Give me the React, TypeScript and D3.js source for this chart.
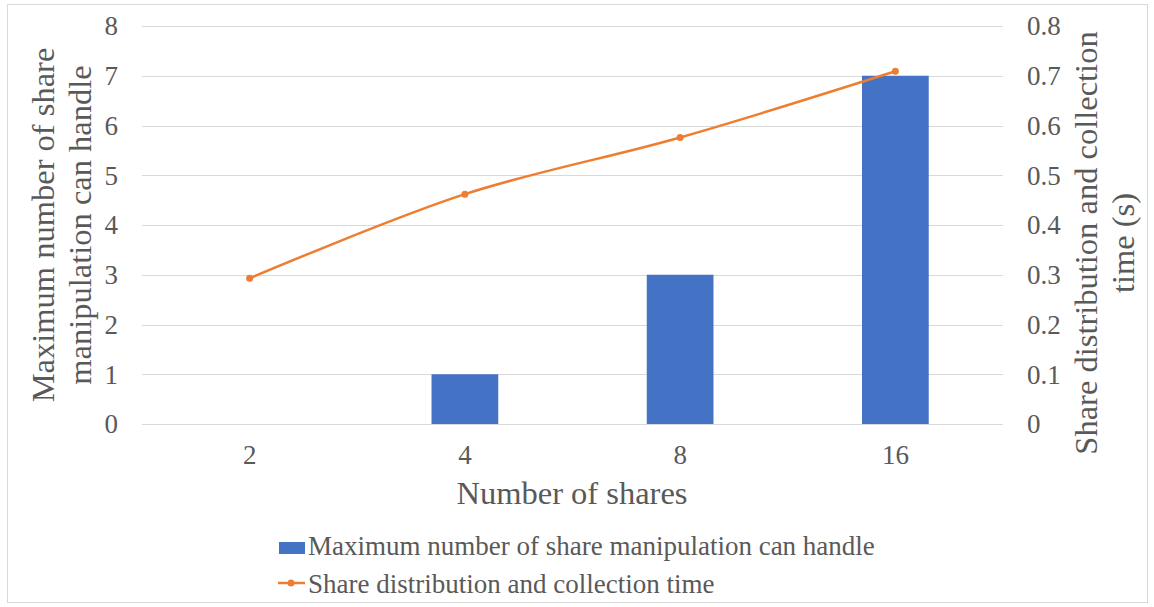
import React from "react";
import * as d3 from "d3";

const categories = ["2", "4", "8", "16"];
const maxManipulations = [0, 1, 3, 7];
const distributionTime = [0.293, 0.462, 0.576, 0.709];
const leftTicks = [0, 1, 2, 3, 4, 5, 6, 7, 8];
const rightTicks = [0, 0.1, 0.2, 0.3, 0.4, 0.5, 0.6, 0.7, 0.8];

const W = 1154;
const H = 607;
const plot = { left: 142, right: 1003, top: 26, bottom: 424 };
const barColor = "#4472c4";
const lineColor = "#ed7d31";
const textColor = "#595959";
const gridColor = "#d9d9d9";
const font = "'Liberation Serif', 'Times New Roman', serif";
const tickSize = 27;
const titleSize = 32.5;
const legendSize = 27;

export default function App() {
  const x = d3
    .scaleBand<string>()
    .domain(categories)
    .range([plot.left, plot.right])
    .paddingInner(0)
    .paddingOuter(0);
  const yLeft = d3.scaleLinear().domain([0, 8]).range([plot.bottom, plot.top]);
  const yRight = d3.scaleLinear().domain([0, 0.8]).range([plot.bottom, plot.top]);
  const barW = x.bandwidth() * 0.31;
  const cx = (c: string) => (x(c) as number) + x.bandwidth() / 2;

  const pts: [number, number][] = categories.map((c, i) => [cx(c), yRight(distributionTime[i])]);
  const line = d3.line().curve(d3.curveCatmullRom.alpha(0.5))(pts) as string;

  return (
    <svg
      width={W}
      height={H}
      style={{ position: "absolute", left: 0, top: 0, background: "#fff" }}
      fontFamily={font}
    >
      <rect x={7.5} y={4.5} width={1140} height={598} fill="#fff" stroke="#d9d9d9" />

      {leftTicks.map((t) => (
        <line
          key={"g" + t}
          x1={plot.left}
          x2={plot.right}
          y1={Math.round(yLeft(t)) + 0.5}
          y2={Math.round(yLeft(t)) + 0.5}
          stroke={gridColor}
          strokeWidth={1}
        />
      ))}

      {categories.map((c, i) => (
        <rect
          key={"b" + c}
          x={cx(c) - barW / 2}
          y={yLeft(maxManipulations[i])}
          width={barW}
          height={yLeft(0) - yLeft(maxManipulations[i])}
          fill={barColor}
        />
      ))}

      <path d={line} fill="none" stroke={lineColor} strokeWidth={2.5} strokeLinecap="round" />
      {pts.map((p, i) => (
        <circle key={"m" + i} cx={p[0]} cy={p[1]} r={3.5} fill={lineColor} />
      ))}

      {leftTicks.map((t) => (
        <text
          key={"lt" + t}
          x={118}
          y={yLeft(t)}
          dy="0.35em"
          textAnchor="end"
          fontSize={tickSize}
          fill={textColor}
        >
          {t}
        </text>
      ))}
      {rightTicks.map((t) => (
        <text
          key={"rt" + t}
          x={1027}
          y={yRight(t)}
          dy="0.35em"
          textAnchor="start"
          fontSize={tickSize}
          fill={textColor}
        >
          {t === 0 ? "0" : d3.format(".1f")(t)}
        </text>
      ))}
      {categories.map((c) => (
        <text
          key={"xt" + c}
          x={cx(c)}
          y={455}
          dy="0.35em"
          textAnchor="middle"
          fontSize={tickSize}
          fill={textColor}
        >
          {c}
        </text>
      ))}

      <text x={572} y={504} textAnchor="middle" fontSize={titleSize} fill={textColor}>
        Number of shares
      </text>

      <g transform="translate(54, 225) rotate(-90)">
        <text x={0} y={0} textAnchor="middle" fontSize={titleSize} fill={textColor}>
          Maximum number of share
        </text>
        <text x={0} y={37} textAnchor="middle" fontSize={titleSize} fill={textColor}>
          manipulation can handle
        </text>
      </g>
      <g transform="translate(1097, 243) rotate(-90)">
        <text x={0} y={0} textAnchor="middle" fontSize={titleSize} fill={textColor}>
          Share distribution and collection
        </text>
        <text x={0} y={37} textAnchor="middle" fontSize={titleSize} fill={textColor}>
          time (s)
        </text>
      </g>

      <rect x={279} y={542} width={26} height={12} fill={barColor} />
      <text x={308} y={555} fontSize={legendSize} fill={textColor}>
        Maximum number of share manipulation can handle
      </text>
      <line x1={278} x2={305} y1={583} y2={583} stroke={lineColor} strokeWidth={2.5} />
      <circle cx={291} cy={583} r={3.5} fill={lineColor} />
      <text x={308} y={593} fontSize={legendSize} fill={textColor}>
        Share distribution and collection time
      </text>
    </svg>
  );
}
